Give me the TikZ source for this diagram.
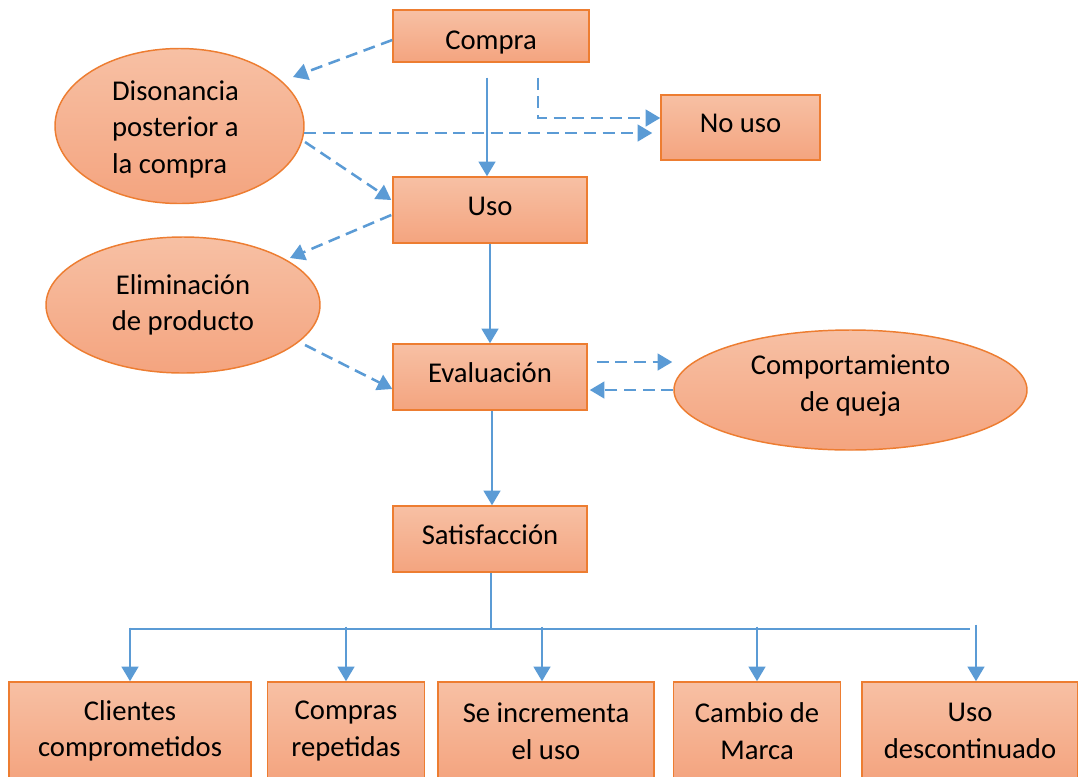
\documentclass[tikz,border=0pt]{standalone}
\usepackage{fontspec}
\setmainfont{Carlito}
\usetikzlibrary{arrows.meta,calc,shapes.geometric}
\definecolor{bord}{HTML}{ED7D31}
\definecolor{ftop}{HTML}{F7C0A4}
\definecolor{fbot}{HTML}{F4A47F}
\definecolor{arr}{HTML}{5B9BD5}
\begin{document}
\begin{tikzpicture}[x=0.75pt,y=-0.75pt,
  font=\fontsize{21.5pt}{27.4pt}\selectfont,
  box/.style={draw=bord,line width=1.1pt,top color=ftop,bottom color=fbot,inner sep=0pt,align=center},
  one/.style={text height=15pt,text depth=7.5pt},
  oval/.style={ellipse,draw=bord,line width=1.1pt,top color=ftop,bottom color=fbot,inner sep=0pt},
  sol/.style={draw=arr,line width=1.9pt,-{Triangle[length=11pt,width=12.5pt]}},
  dsh/.style={sol,dash pattern=on 9pt off 5pt},
  thin/.style={draw=arr,line width=0.9pt}]
\useasboundingbox (0,0) rectangle (1078,776);
% boxes
\node[box,minimum width={196*0.75pt},minimum height={52*0.75pt},text height=25pt,text depth=5.5pt] (compra) at (491,36) {Compra};
\node[box,one,minimum width={159*0.75pt},minimum height={65*0.75pt}] (nouso) at (740.5,127.5) {No uso};
\node[box,one,minimum width={194*0.75pt},minimum height={66*0.75pt}] (uso) at (490,210) {Uso};
\node[box,one,minimum width={194*0.75pt},minimum height={66*0.75pt}] (eval) at (490,377) {Evaluación};
\node[box,one,minimum width={194*0.75pt},minimum height={66*0.75pt}] (satis) at (490,539) {Satisfacción};
% ellipses
\node[oval,minimum width={249*0.75pt},minimum height={136*0.75pt},align=left] (dis) at (179.5,126) {\hspace*{-6pt}\raisebox{-2.5pt}[\height][\depth]{\begin{tabular}{@{}l@{}}Disonancia\\posterior a\\la compra\end{tabular}}};
\node[oval,minimum width={274*0.75pt},minimum height={136*0.75pt},align=center] (elim) at (183,305) {Eliminación\\de producto};
\node[oval,minimum width={353*0.75pt},minimum height={120*0.75pt},align=center,text depth=10pt] (comp) at (850.5,390) {Comportamiento\\de queja};
% bottom boxes
\node[box,minimum width={242*0.75pt},minimum height={98*0.75pt}] (b1) at (130,731) {Clientes\\comprometidos};
\node[box,minimum width={157*0.75pt},minimum height={98*0.75pt}] (b2) at (346,731) {Compras\\repetidas};
\node[box,minimum width={216*0.75pt},minimum height={98*0.75pt}] (b3) at (546,731) {Se incrementa\\el uso};
\node[box,minimum width={167*0.75pt},minimum height={98*0.75pt}] (b4) at (757,731) {Cambio de\\Marca};
\node[box,minimum width={216*0.75pt},minimum height={98*0.75pt}] (b5) at (970,731) {Uso\\descontinuado};
% connectors
\draw[dsh] ($(compra.west)+(0,4)$) -- ($(dis.center)+(113.5,-49)$);
\draw[sol] ($(compra.south)+(-4,15)$) -- ($(uso.north)+(-3,0)$);
\draw[dsh] ($(compra.south)+(47,15)$) |- ($(nouso.west)+(0,-9.5)$);
\draw[dsh] ($(dis.center)+(124.5,7)$) -- ($(nouso.west)+(-8,5.5)$);
\draw[dsh] ($(dis.center)+(125.5,16)$) -- ($(uso.west)+(-1,-10)$);
\draw[dsh] ($(uso.west)+(-1,5)$) -- ($(elim.center)+(107,-47)$);
\draw[sol] (uso.south) -- (eval.north);
\draw[dsh] ($(elim.center)+(122,40)$) -- ($(eval.west)+(0,12)$);
\draw[dsh] ($(eval.east)+(9,-15)$) -- ($(comp.west)+(-1,-28)$);
\draw[dsh] (comp.west) -- ($(eval.east)+(2,13)$);
\draw[sol] ($(eval.south)+(2,0)$) -- ($(satis.north)+(2,0)$);
\coordinate (hub) at ($(satis.south)+(1,56)$);
\draw[thin] ($(satis.south)+(1,0)$) -- (hub);
\draw[draw=arr,line width=1.2pt] (hub -| b1.north) -- (hub -| b5.north);
\draw[sol] ($(hub -| b1.north)+(0,-1)$) -- (b1.north);
\draw[sol] ($(hub -| b2.north)+(0,-2)$) -- (b2.north);
\draw[sol] ($(hub -| b3.north)+(-4,-2)$) -- ($(b3.north)+(-4,0)$);
\draw[sol] ($(hub -| b4.north)+(0,-2)$) -- (b4.north);
\draw[sol] ($(hub -| b5.north)+(6,-4)$) -- ($(b5.north)+(6,0)$);
\end{tikzpicture}
\end{document}
